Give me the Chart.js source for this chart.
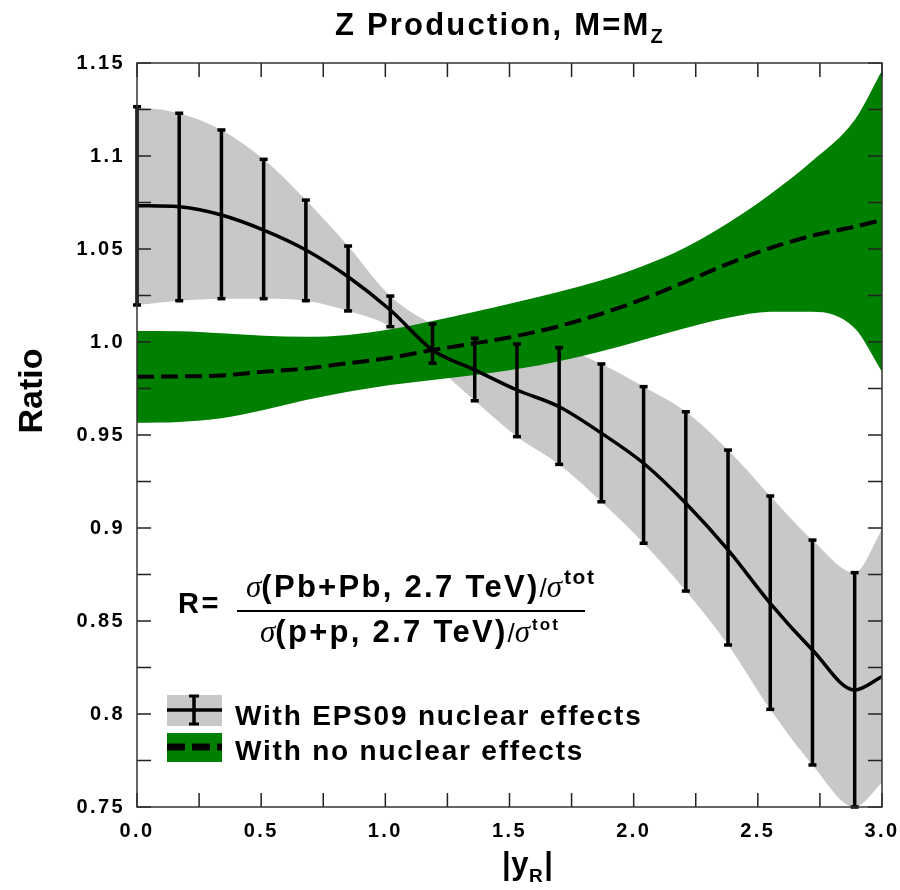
<!DOCTYPE html>
<html><head><meta charset="utf-8">
<script src="https://cdn.jsdelivr.net/npm/chart.js@4.4.1/dist/chart.umd.min.js"></script>
<style>html,body{margin:0;padding:0;background:#fff}canvas{display:block}</style>
</head><body>
<canvas id="c" width="900" height="890"></canvas>
<script>
// ---------- text ----------
const titleMain = 'Z Production, M=M';
const titleSub = 'Z';
const yAxisTitle = 'Ratio';
const xAxisTitleMain = '|y';
const xAxisTitleSub = 'R';
const xAxisTitleEnd = '|';
const legendLabels = ['With EPS09 nuclear effects', 'With no nuclear effects'];
const formulaLeft = 'R=';
const formulaNum = '(Pb+Pb, 2.7 TeV)';
const formulaDen = '(p+p, 2.7 TeV)';
const sigma = '\u03C3';
const slash = '/';
const supTot = 'tot';

// ---------- ticks ----------
const xTickValues = [0, 0.5, 1.0, 1.5, 2.0, 2.5, 3.0];
const xTickLabels = ['0.0', '0.5', '1.0', '1.5', '2.0', '2.5', '3.0'];
const yTickValues = [0.75, 0.8, 0.85, 0.9, 0.95, 1.0, 1.05, 1.1, 1.15];
const yTickLabels = ['0.75', '0.8', '0.85', '0.9', '0.95', '1.0', '1.05', '1.1', '1.15'];
const xMinorTicks = [0, 0.25, 0.5, 0.75, 1.0, 1.25, 1.5, 1.75, 2.0, 2.25, 2.5, 2.75, 3.0];
const yMinorTicks = [0.75, 0.775, 0.8, 0.825, 0.85, 0.875, 0.9, 0.925, 0.95, 0.975, 1.0, 1.025, 1.05, 1.075, 1.1, 1.125, 1.15];

// ---------- data ----------
const curveX = [0, 0.17, 0.34, 0.51, 0.68, 0.85, 1.02, 1.19, 1.36, 1.53, 1.70, 1.87, 2.04, 2.21, 2.38, 2.55, 2.72, 2.89, 3.0];
// With EPS09 nuclear effects (central curve and grey uncertainty band)
const epsCentral   = [1.0733, 1.0727, 1.0683, 1.0602, 1.0495, 1.0351, 1.0172, 0.9957, 0.9850, 0.9742, 0.9652, 0.9510, 0.9348, 0.9133, 0.8882, 0.8595, 0.8344, 0.8129, 0.8201];
const epsBandUpper = [1.1265, 1.1230, 1.1140, 1.0982, 1.0763, 1.0516, 1.0247, 1.0097, 1.0020, 0.9989, 0.9970, 0.9882, 0.9760, 0.9625, 0.9419, 0.9172, 0.8935, 0.8760, 0.8990];
const epsBandLower = [1.0199, 1.0222, 1.0233, 1.0233, 1.0222, 1.0167, 1.0082, 0.9886, 0.9684, 0.9491, 0.9342, 0.9141, 0.8918, 0.8661, 0.8371, 0.8025, 0.7726, 0.7500, 0.7630];
// Error bars of the EPS09 curve
const errX    = [0, 0.17, 0.34, 0.51, 0.68, 0.85, 1.02, 1.19, 1.36, 1.53, 1.70, 1.87, 2.04, 2.21, 2.38, 2.55, 2.72, 2.89];
const errHigh = [1.1265, 1.1230, 1.1140, 1.0982, 1.0763, 1.0516, 1.0247, 1.0097, 1.0020, 0.9989, 0.9970, 0.9882, 0.9760, 0.9625, 0.9419, 0.9172, 0.8935, 0.8760];
const errLow  = [1.0199, 1.0222, 1.0233, 1.0233, 1.0222, 1.0167, 1.0082, 0.9886, 0.9684, 0.9491, 0.9342, 0.9141, 0.8918, 0.8661, 0.8371, 0.8025, 0.7726, 0.7500];
// With no nuclear effects (dashed curve and green band)
const noneCentral = [0.9813, 0.9815, 0.9820, 0.9840, 0.9858, 0.9886, 0.9915, 0.9957, 0.9993, 1.0033, 1.0085, 1.0152, 1.0232, 1.0325, 1.0420, 1.0505, 1.0572, 1.0620, 1.0656];
const noneUpper   = [1.0059, 1.0058, 1.0047, 1.0034, 1.0028, 1.0038, 1.0068, 1.0113, 1.0163, 1.0215, 1.0270, 1.0332, 1.0410, 1.0510, 1.0640, 1.0795, 1.0975, 1.1194, 1.1460];
const noneLower   = [0.9566, 0.9570, 0.9590, 0.9634, 0.9688, 0.9733, 0.9769, 0.9796, 0.9823, 0.9855, 0.9897, 0.9950, 1.0012, 1.0075, 1.0130, 1.0162, 1.0163, 1.0074, 0.9840];

const GREY = '#c8c8c8';
const GREEN = '#008000';

const pts = (xs, ys) => xs.map((x, i) => ({x: x, y: ys[i]}));
const errData = errX.flatMap((x, i) => [{x: x, y: errLow[i]}, {x: x, y: errHigh[i]}, {x: x, y: null}]);

function txt(ctx, s, x, y, font, spacing, align, base) {
  ctx.save();
  ctx.font = font;
  ctx.letterSpacing = (spacing || 0) + 'px';
  ctx.textAlign = align || 'left';
  ctx.textBaseline = base || 'alphabetic';
  ctx.fillStyle = '#000';
  ctx.fillText(s, x, y);
  const w = ctx.measureText(s).width;
  ctx.restore();
  return w;
}

const SANS = '"Liberation Sans", Arial, Helvetica, sans-serif';
const SERIF = '"Liberation Serif", "Times New Roman", serif';

const spacingPlugin = {
  id: 'spacing',
  beforeUpdate(chart) { chart.ctx.letterSpacing = '2.4px'; },
  beforeLayout(chart) { chart.ctx.letterSpacing = '2.4px'; },
  beforeDraw(chart) { chart.ctx.letterSpacing = '2.4px'; }
};

const frameTicks = {
  id: 'frameTicks',
  afterDatasetsDraw(chart) {
    const {ctx, chartArea: a, scales: {x, y}} = chart;
    ctx.save();
    ctx.strokeStyle = '#222';
    ctx.lineWidth = 1.5;
    const L = 14;
    ctx.beginPath();
    xMinorTicks.forEach(v => {
      const px = x.getPixelForValue(v);
      ctx.moveTo(px, a.bottom); ctx.lineTo(px, a.bottom - L);
      ctx.moveTo(px, a.top); ctx.lineTo(px, a.top + L);
    });
    yMinorTicks.forEach(v => {
      const py = y.getPixelForValue(v);
      ctx.moveTo(a.left, py); ctx.lineTo(a.left + L, py);
      ctx.moveTo(a.right, py); ctx.lineTo(a.right - L, py);
    });
    ctx.stroke();
    ctx.strokeStyle = '#333';
    ctx.strokeRect(a.left, a.top, a.right - a.left, a.bottom - a.top);
    ctx.restore();
  }
};

const annotations = {
  id: 'annotations',
  afterDraw(chart) {
    const ctx = chart.ctx;
    ctx.save();
    ctx.letterSpacing = '0px';
    // title
    let w = txt(ctx, titleMain, 335, 35, 'bold 31px ' + SANS, 2.2);
    txt(ctx, titleSub, 335 + w, 43, 'bold 20px ' + SANS, 0.5);
    // y title
    ctx.save();
    ctx.translate(42, 391);
    ctx.rotate(-Math.PI / 2);
    txt(ctx, yAxisTitle, 0, 0, 'bold 34px ' + SANS, 0, 'center');
    ctx.restore();
    // x title
    let xx = 502;
    xx += txt(ctx, xAxisTitleMain, xx, 874, 'bold 31px ' + SANS, 0.5);
    xx += txt(ctx, xAxisTitleSub, xx, 882, 'bold 19px ' + SANS, 0.5);
    txt(ctx, xAxisTitleEnd, xx + 1, 874, 'bold 31px ' + SANS, 0);

    // formula
    txt(ctx, formulaLeft, 178, 613, 'bold 29px ' + SANS, 2.5);
    let nx = 246;
    nx += txt(ctx, sigma, nx, 597, 'italic 31px ' + SERIF, 0);
    nx += txt(ctx, formulaNum, nx, 597, 'bold 31px ' + SANS, 2.3);
    nx += txt(ctx, slash, nx, 597, '26px ' + SANS, 0);
    nx += txt(ctx, sigma, nx, 597, 'italic 31px ' + SERIF, 0);
    txt(ctx, supTot, nx + 2, 584, 'bold 21px ' + SANS, 1.5);
    let dx = 260;
    dx += txt(ctx, sigma, dx, 642, 'italic 31px ' + SERIF, 0);
    dx += txt(ctx, formulaDen, dx, 642, 'bold 31px ' + SANS, 2.3);
    dx += txt(ctx, slash, dx, 642, '26px ' + SANS, 0);
    dx += txt(ctx, sigma, dx, 642, 'italic 31px ' + SERIF, 0);
    txt(ctx, supTot, dx + 2, 630, 'bold 17px ' + SANS, 2);
    ctx.strokeStyle = '#000';
    ctx.lineWidth = 2;
    ctx.beginPath(); ctx.moveTo(237, 611); ctx.lineTo(585, 611); ctx.stroke();

    // legend
    ctx.fillStyle = GREY;
    ctx.fillRect(167, 695, 55, 31);
    ctx.strokeStyle = '#000';
    ctx.lineWidth = 3.5;
    ctx.beginPath(); ctx.moveTo(167, 710); ctx.lineTo(222, 710); ctx.stroke();
    ctx.beginPath(); ctx.moveTo(194, 696); ctx.lineTo(194, 724); ctx.stroke();
    ctx.lineWidth = 3;
    ctx.beginPath(); ctx.moveTo(189, 696); ctx.lineTo(199, 696); ctx.moveTo(189, 724); ctx.lineTo(199, 724); ctx.stroke();
    ctx.fillStyle = GREEN;
    ctx.fillRect(167, 733, 55, 29);
    ctx.lineWidth = 7;
    ctx.setLineDash([18, 7]);
    ctx.beginPath(); ctx.moveTo(167, 747); ctx.lineTo(222, 747); ctx.stroke();
    ctx.setLineDash([]);
    txt(ctx, legendLabels[0], 235, 725, 'bold 28px ' + SANS, 1.8);
    txt(ctx, legendLabels[1], 235, 760, 'bold 28px ' + SANS, 1.8);
    ctx.restore();
  }
};

const chart = new Chart(document.getElementById('c'), {
  type: 'line',
  data: {
    datasets: [
      { label: 'EPS09 band upper', data: pts(curveX, epsBandUpper), borderWidth: 0, pointRadius: 0,
        backgroundColor: GREY, fill: 1, cubicInterpolationMode: 'monotone', order: 5 },
      { label: 'EPS09 band lower', data: pts(curveX, epsBandLower), borderWidth: 0, pointRadius: 0,
        fill: false, cubicInterpolationMode: 'monotone', order: 5 },
      { label: 'no nuclear band upper', data: pts(curveX, noneUpper), borderWidth: 0, pointRadius: 0,
        backgroundColor: GREEN, fill: 3, cubicInterpolationMode: 'monotone', order: 4 },
      { label: 'no nuclear band lower', data: pts(curveX, noneLower), borderWidth: 0, pointRadius: 0,
        fill: false, cubicInterpolationMode: 'monotone', order: 4 },
      { label: 'EPS09 error bars', data: errData, borderColor: '#000', borderWidth: 3.5, tension: 0,
        pointStyle: 'line', pointRadius: 4, pointBorderWidth: 3.5, pointBorderColor: '#000',
        pointBackgroundColor: '#000', fill: false, spanGaps: false, clip: 6, order: 2 },
      { label: legendLabels[0], data: pts(curveX, epsCentral), borderColor: '#000', borderWidth: 3.5,
        pointRadius: 0, fill: false, cubicInterpolationMode: 'monotone', order: 1 },
      { label: legendLabels[1], data: pts(curveX, noneCentral), borderColor: '#000', borderWidth: 4,
        borderDash: [17, 7], pointRadius: 0, fill: false, cubicInterpolationMode: 'monotone', order: 1 }
    ]
  },
  options: {
    responsive: false,
    animation: false,
    events: [],
    layout: { padding: { top: 63, right: 18, left: 0, bottom: 0 } },
    plugins: { legend: { display: false }, tooltip: { enabled: false }, title: { display: false } },
    scales: {
      x: {
        type: 'linear', min: 0, max: 3,
        grid: { display: false, drawTicks: false },
        border: { display: false },
        afterBuildTicks: s => { s.ticks = xTickValues.map(v => ({value: v})); },
        afterFit: s => { s.height = 83; s.paddingLeft = 0; s.paddingRight = 0; },
        ticks: { autoSkip: false, maxRotation: 0, padding: 12, color: '#000',
                 font: { family: SANS, size: 20, weight: 'bold' },
                 callback: (v, i) => xTickLabels[i] }
      },
      y: {
        type: 'linear', min: 0.75, max: 1.15,
        grid: { display: false, drawTicks: false },
        border: { display: false },
        afterBuildTicks: s => { s.ticks = yTickValues.map(v => ({value: v})); },
        afterFit: s => { s.width = 137; s.paddingTop = 0; s.paddingBottom = 0; },
        ticks: { autoSkip: false, padding: 12, color: '#000',
                 font: { family: SANS, size: 20, weight: 'bold' },
                 callback: (v, i) => yTickLabels[i] }
      }
    }
  },
  plugins: [spacingPlugin, frameTicks, annotations]
});
</script>
</body></html>
